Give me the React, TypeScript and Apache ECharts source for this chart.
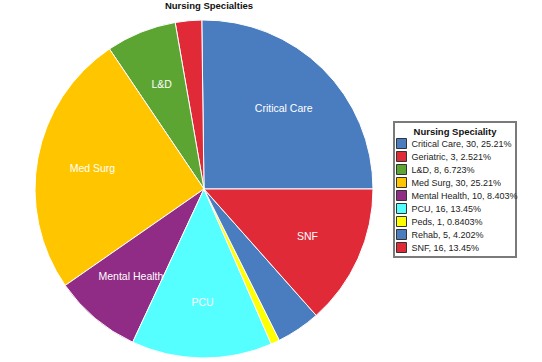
import React, { useEffect, useRef } from "react";
import * as echarts from "echarts";

const categories = ["Critical Care", "Geriatric", "L&D", "Med Surg", "Mental Health", "PCU", "Peds", "Rehab", "SNF"];
const values = [30, 3, 8, 30, 10, 16, 1, 5, 16];
const colors = ["#4a7dbf", "#e12a38", "#5ca532", "#ffc600", "#902c85", "#55ffff", "#ffff00", "#4a7dbf", "#e12a38"];

const chartTitle = "Nursing Specialties";
const legendTitle = "Nursing Speciality";

export default function App() {
  const ref = useRef<HTMLDivElement>(null);
  useEffect(() => {
    if (!ref.current) return;
    const chart = echarts.init(ref.current, undefined, { renderer: "svg" });
    const total = values.reduce((a, b) => a + b, 0);
    const pct = (v: number) => String(Number(((v / total) * 100).toPrecision(4))) + "%";
    const baseData = categories.map((c, i) => ({ name: c, value: values[i], itemStyle: { color: colors[i] } }));
    const labelData = categories.map((c, i) => ({ name: c, value: values[i] }));
    const center = [204, 189];
    chart.setOption({
      animation: false,
      backgroundColor: "#ffffff",
      title: {
        text: chartTitle,
        left: 204,
        top: -5,
        textAlign: "center",
        textStyle: { fontFamily: "Liberation Sans", fontSize: 9.5, fontWeight: "bold", color: "#111" },
      },
      graphic: [
        {
          type: "rect",
          z: 1,
          shape: { x: 394, y: 122, width: 122, height: 135 },
          style: { fill: "#ffffff", stroke: "#7a7a7a", lineWidth: 2 },
        },
        {
          type: "text",
          z: 2,
          x: 455,
          y: 126,
          style: {
            text: legendTitle,
            align: "center",
            fontFamily: "Liberation Sans",
            fontSize: 9.5,
            fontWeight: "bold",
            fill: "#111",
          },
        },
      ],
      legend: {
        orient: "vertical",
        left: 396,
        top: 138,
        z: 10,
        padding: [0, 0, 0, 0],
        itemWidth: 10,
        itemHeight: 10,
        itemGap: 2,
        icon: "rect",
        selectedMode: false,
        itemStyle: { borderColor: "#333", borderWidth: 1 },
        textStyle: { fontFamily: "Liberation Sans", fontSize: 9, lineHeight: 10, color: "#222" },
        data: categories,
        formatter: (name: string) => {
          const i = categories.indexOf(name);
          return `${name}, ${values[i]}, ${pct(values[i])}`;
        },
      },
      series: [
        {
          type: "pie",
          center,
          radius: [0, 169],
          startAngle: 0,
          clockwise: false,
          silent: true,
          label: { show: false },
          labelLine: { show: false },
          itemStyle: { borderColor: "#ffffff", borderWidth: 1 },
          data: baseData,
        },
        {
          type: "pie",
          center,
          radius: [52, 169],
          startAngle: 0,
          clockwise: false,
          silent: true,
          minShowLabelAngle: 20,
          itemStyle: { color: "rgba(0,0,0,0)", borderWidth: 0 },
          label: {
            show: true,
            position: "inside",
            formatter: "{b}",
            color: "#ffffff",
            fontFamily: "Liberation Sans",
            fontSize: 10.5,
          },
          labelLine: { show: false },
          data: labelData,
        },
      ],
    });
    return () => chart.dispose();
  }, []);
  return <div ref={ref} style={{ position: "fixed", left: 0, top: 0, width: 542, height: 362 }} />;
}
